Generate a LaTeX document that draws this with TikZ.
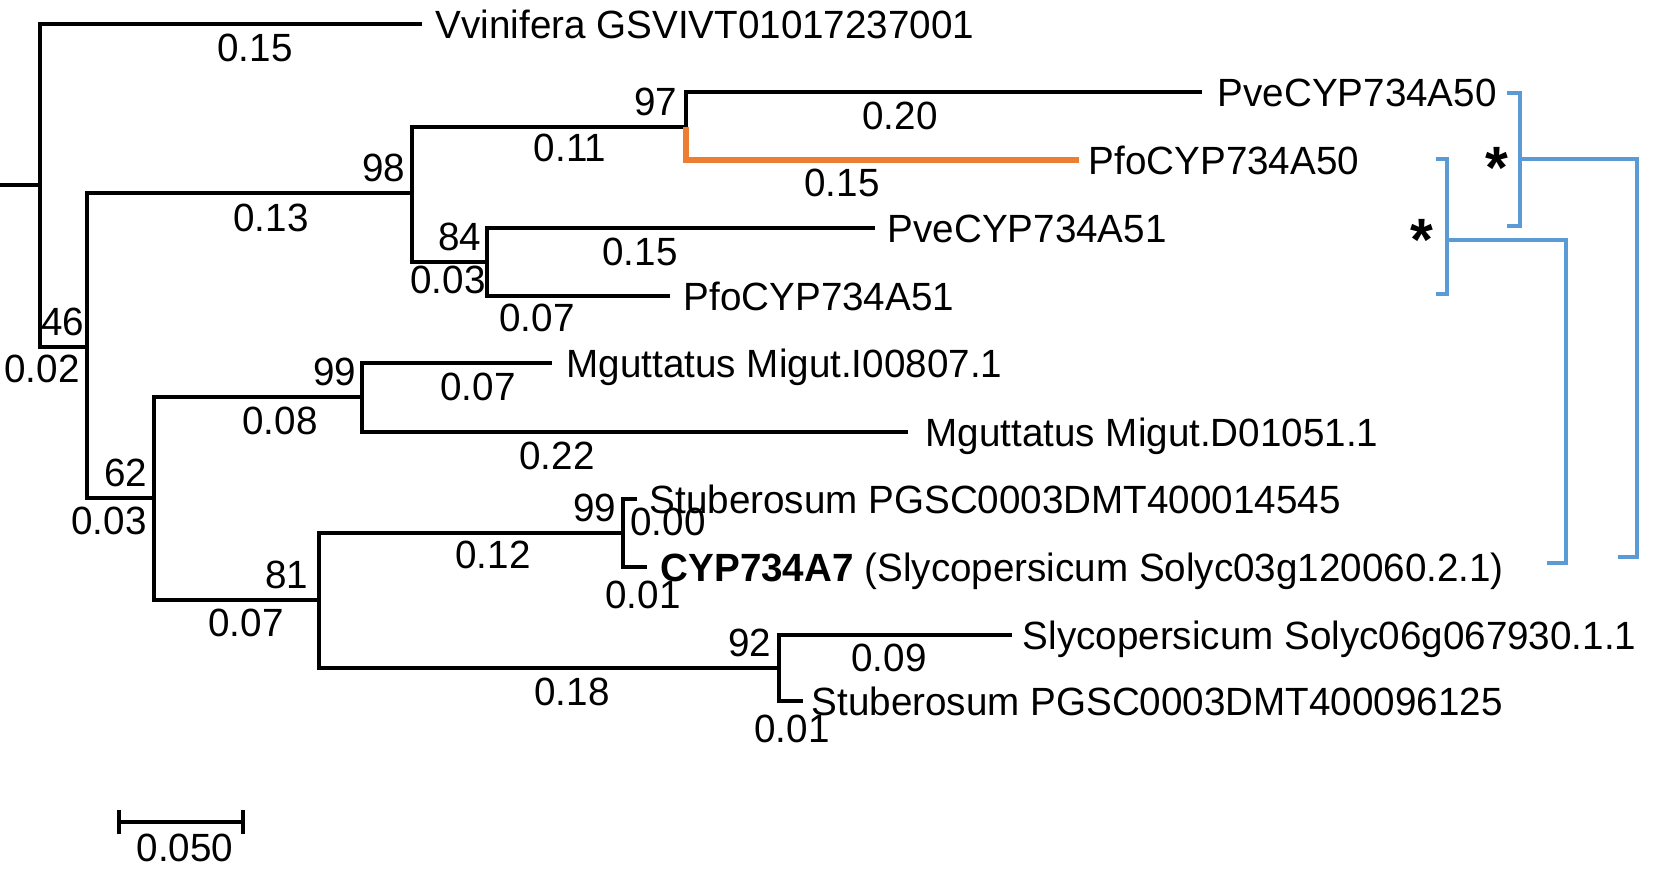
\documentclass[tikz,border=0pt]{standalone}
\usepackage{fontspec}
\setmainfont[FakeStretch=0.98]{Liberation Sans}
\usepackage{tikz}
\usetikzlibrary{positioning,arrows.meta}
\definecolor{treeorange}{RGB}{237,125,49}
\definecolor{treeblue}{RGB}{91,155,213}
\newcommand{\treefont}{\fontsize{11.2}{13}\selectfont}
\tikzstyle{branch}=[line width=1.2pt]
\tikzstyle{leaf}=[inner sep=0pt, text height=8pt, text depth=0pt, font=\treefont]
\tikzstyle{boot}=[inner sep=0pt, text depth=0pt, font=\treefont]
\tikzstyle{blen}=[inner sep=0pt, text depth=0pt, font=\treefont]
\tikzstyle{clade}=[treeblue, line width=1.1pt]
\tikzstyle{starmark}=[inner sep=0pt, anchor=base, font=\fontsize{17}{18}\selectfont\bfseries]

\begin{document}
\begin{tikzpicture}[x=0.01cm, y=-0.01cm]
	\useasboundingbox (0,0) rectangle (1656,875);
	% inner nodes
	\coordinate (root) at (0,185);
	\coordinate (n0) at (40,185);
	\coordinate (n46) at (87,347);
	\coordinate (n98) at (412,193);
	\coordinate (n97) at (686,127);
	\coordinate (n84) at (487,262);
	\coordinate (n62) at (154,498);
	\coordinate (n99a) at (362,397);
	\coordinate (n81) at (319,600);
	\coordinate (n99b) at (623,533);
	\coordinate (n92) at (779,668);
	% tips
	\coordinate (vvi) at (422,24);
	\coordinate (pve50) at (1202,92);
	\coordinate (pfo50) at (1079,160);
	\coordinate (pve51) at (875,228);
	\coordinate (pfo51) at (670,296);
	\coordinate (mgi) at (552,363);
	\coordinate (mgd) at (908,432);
	\coordinate (stu1) at (637,499);
	\coordinate (cyp) at (647,567);
	\coordinate (sly) at (1012,635);
	\coordinate (stu2) at (803,701);
	% branches
	\draw[branch] (root) -- (n0);
	\draw[branch] (n0) |- (vvi);
	\draw[branch] (n0) |- (n46);
	\draw[branch] (n46) |- (n98);
	\draw[branch] (n46) |- (n62);
	\draw[branch] (n98) |- (n97);
	\draw[branch] (n98) |- (n84);
	\draw[branch] (n97) |- (pve50);
	\draw[branch] (n84) |- (pve51);
	\draw[branch] (n84) |- (pfo51);
	\draw[branch] (n62) |- (n99a);
	\draw[branch] (n62) |- (n81);
	\draw[branch] (n99a) |- (mgi);
	\draw[branch] (n99a) |- (mgd);
	\draw[branch] (n81) |- (n99b);
	\draw[branch] (n81) |- (n92);
	\draw[branch] (n99b) |- (stu1);
	\draw[branch] (n99b) |- (cyp);
	\draw[branch] (n92) |- (sly);
	\draw[branch] (n92) |- (stu2);
	\draw[branch, treeorange, line width=1.9pt] (n97) |- (pfo50);
	% tip names
	\node[leaf, right=0.13cm of vvi] (vviname) {Vvinifera GSVIVT01017237001};
	\node[leaf, right=0.15cm of pve50] (pve50name) {PveCYP734A50};
	\node[leaf, right=0.09cm of pfo50] (pfo50name) {PfoCYP734A50};
	\node[leaf, right=0.12cm of pve51] (pve51name) {PveCYP734A51};
	\node[leaf, right=0.13cm of pfo51] (pfo51name) {PfoCYP734A51};
	\node[leaf, right=0.14cm of mgi] (mginame) {Mguttatus Migut.I00807.1};
	\node[leaf, right=0.17cm of mgd] (mgdname) {Mguttatus Migut.D01051.1};
	\node[leaf, right=0.12cm of stu1] (stu1name) {Stuberosum PGSC0003DMT400014545};
	\node[leaf, right=0.13cm of cyp] (cypname) {\textbf{CYP734A7} (Slycopersicum Solyc03g120060.2.1)};
	\node[leaf, right=0.1cm of sly] (slyname) {Slycopersicum Solyc06g067930.1.1};
	\node[leaf, right=0.08cm of stu2] (stu2name) {Stuberosum PGSC0003DMT400096125};
	% bootstrap
	\node[boot, above left=0.11cm and 0.02cm of n46] (b46) {46};
	\node[boot, above left=0.11cm and 0.06cm of n98] (b98) {98};
	\node[boot, above left=0.11cm and 0.08cm of n97] (b97) {97};
	\node[boot, above left=0.11cm and 0.05cm of n84] (b84) {84};
	\node[boot, above left=0.11cm and 0.06cm of n62] (b62) {62};
	\node[boot, above left=0.11cm and 0.05cm of n99a] (b99a) {99};
	\node[boot, above left=0.11cm and 0.10cm of n81] (b81) {81};
	\node[boot, above left=0.11cm and 0.06cm of n99b] (b99b) {99};
	\node[boot, above left=0.11cm and 0.07cm of n92] (b92) {92};
	% branch lengths
	\node[blen] (l1) at (255,48) {0.15};
	\node[blen] (l2) at (271,218) {0.13};
	\node[blen] (l3) at (570,148) {0.11};
	\node[blen] (l4) at (900,116) {0.20};
	\node[blen] (l5) at (842,183) {0.15};
	\node[blen] (l6) at (448,280) {0.03};
	\node[blen] (l7) at (640,252) {0.15};
	\node[blen] (l8) at (537,318) {0.07};
	\node[blen] (l9) at (42,369) {0.02};
	\node[blen] (l10) at (109,521) {0.03};
	\node[blen] (l11) at (280,421) {0.08};
	\node[blen] (l12) at (478,387) {0.07};
	\node[blen] (l13) at (557,456) {0.22};
	\node[blen] (l14) at (246,623) {0.07};
	\node[blen] (l15) at (493,555) {0.12};
	\node[blen] (l16) at (668,522) {0.00};
	\node[blen] (l17) at (643,595) {0.01};
	\node[blen] (l18) at (572,692) {0.18};
	\node[blen] (l19) at (889,658) {0.09};
	\node[blen] (l20) at (792,729) {0.01};
	% clade brackets
	\coordinate (c1a) at (1507,93);
	\coordinate (c1b) at (1520,93);
	\coordinate (c1c) at (1520,226);
	\coordinate (c1d) at (1507,226);
	\coordinate (c1m) at (1520,159);
	\coordinate (c1r) at (1637,159);
	\coordinate (c1e) at (1618,557);
	\coordinate (c2a) at (1436,159);
	\coordinate (c2b) at (1447,159);
	\coordinate (c2c) at (1447,294);
	\coordinate (c2d) at (1436,294);
	\coordinate (c2m) at (1447,240);
	\coordinate (c2r) at (1566,240);
	\coordinate (c2e) at (1547,563);
	\draw[clade] (c1a) -- (c1b) -- (c1c) -- (c1d);
	\draw[clade] (c1m) -- (c1r) |- (c1e);
	\draw[clade] (c2a) -- (c2b) -- (c2c) -- (c2d);
	\draw[clade] (c2m) -- (c2r) |- (c2e);
	\node[starmark] (star1) at (1497,188) {*};
	\node[starmark] (star2) at (1422,260) {*};
	% scale bar
	\coordinate (sb1) at (117,822);
	\coordinate (sb2) at (245,822);
	\draw[branch, {Bar[width=7pt]}-{Bar[width=7pt]}] (sb1) -- (sb2);
	\node[blen] (sbname) at (185,848) {0.050};
\end{tikzpicture}
\end{document}
